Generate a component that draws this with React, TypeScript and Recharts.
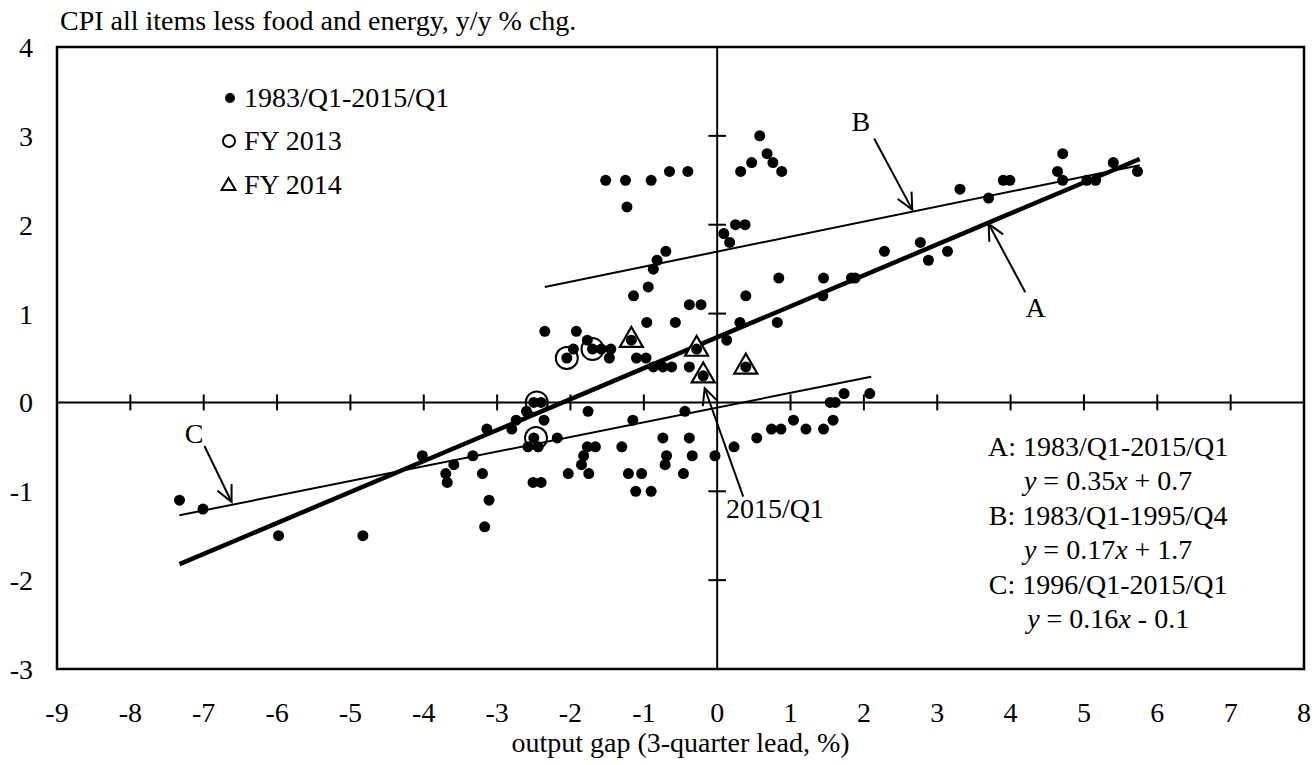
import React from 'react';
import {
  ScatterChart,
  Scatter,
  XAxis,
  YAxis,
  ReferenceLine,
  ReferenceArea,
  ReferenceDot,
  Legend,
} from 'recharts';

const FONT = '"Liberation Serif", "Times New Roman", Times, serif';

// [output gap (3-quarter lead, %), core CPI y/y %], 1983/Q1-2015/Q1
const allQuarters: [number, number][] = [
  [-1.52, 2.5], [-1.25, 2.5], [-0.9, 2.5], [-0.65, 2.6], [-0.4, 2.6], [-1.23, 2.2],
  [0.58, 3.0], [0.32, 2.6], [0.47, 2.7], [0.68, 2.8], [0.76, 2.7], [0.88, 2.6],
  [0.09, 1.9], [0.17, 1.8], [0.25, 2.0], [0.38, 2.0], [-0.7, 1.7], [-0.82, 1.6],
  [-0.87, 1.5], [-0.94, 1.3], [-1.14, 1.2], [-0.38, 1.1], [-0.22, 1.1], [-0.96, 0.9],
  [-0.57, 0.9], [0.84, 1.4], [0.39, 1.2], [0.31, 0.9], [0.82, 0.9], [0.13, 0.7],
  [-2.35, 0.8], [-1.92, 0.8], [-1.77, 0.7], [-1.96, 0.6], [-2.05, 0.5], [-1.7, 0.6],
  [-1.58, 0.6], [-1.45, 0.6], [-1.47, 0.5], [-1.1, 0.5], [-0.97, 0.5], [-0.87, 0.4],
  [-0.74, 0.4], [-0.62, 0.4], [-0.38, 0.4], [-1.17, 0.7], [-0.28, 0.6], [-0.19, 0.3],
  [0.39, 0.4], [-2.5, 0.0], [-2.4, 0.0], [-1.76, -0.1], [-0.44, -0.1], [-2.6, -0.1],
  [-2.74, -0.2], [-2.36, -0.2], [-3.14, -0.3], [-2.8, -0.3], [-2.5, -0.4], [-2.58, -0.5],
  [-2.44, -0.5], [-2.18, -0.4], [-2.51, -0.9], [-2.4, -0.9], [-4.02, -0.6], [-3.7, -0.8],
  [-3.68, -0.9], [-3.59, -0.7], [-3.33, -0.6], [-3.2, -0.8], [-3.11, -1.1], [-3.17, -1.4],
  [-2.03, -0.8], [-1.85, -0.7], [-1.82, -0.6], [-1.77, -0.5], [-1.66, -0.5], [-1.75, -0.8],
  [-1.3, -0.5], [-1.21, -0.8], [-1.03, -0.8], [-1.11, -1.0], [-0.9, -1.0], [-1.15, -0.2],
  [-0.74, -0.4], [-0.69, -0.6], [-0.71, -0.7], [-0.38, -0.4], [-0.34, -0.6], [-0.46, -0.8],
  [-0.03, -0.6], [0.23, -0.5], [0.54, -0.4], [0.74, -0.3], [0.87, -0.3], [1.04, -0.2],
  [1.21, -0.3], [1.45, -0.3], [1.58, -0.2], [1.54, 0.0], [1.61, 0.0], [1.73, 0.1],
  [2.08, 0.1], [1.45, 1.4], [1.44, 1.2], [1.83, 1.4], [1.88, 1.4], [2.28, 1.7],
  [2.77, 1.8], [2.88, 1.6], [3.14, 1.7], [3.31, 2.4], [3.7, 2.3], [3.9, 2.5],
  [3.99, 2.5], [4.64, 2.6], [4.71, 2.8], [4.71, 2.5], [5.04, 2.5], [5.16, 2.5],
  [5.4, 2.7], [5.73, 2.6], [-7.33, -1.1], [-7.01, -1.2], [-5.98, -1.5], [-4.83, -1.5],
];

const fy2013: [number, number][] = [[-2.05, 0.5], [-1.7, 0.6], [-2.46, 0.0], [-2.47, -0.4]];
const fy2014: [number, number][] = [[-1.17, 0.7], [-0.28, 0.6], [0.39, 0.4], [-0.19, 0.3]];

const xTicks = [-9, -8, -7, -6, -5, -4, -3, -2, -1, 0, 1, 2, 3, 4, 5, 6, 7, 8];
const yTicks = [-3, -2, -1, 0, 1, 2, 3, 4];
const xMarks = [-8, -7, -6, -5, -4, -3, -2, -1, 1, 2, 3, 4, 5, 6, 7];
const yMarks = [-2, -1, 1, 2, 3];

// fitted lines, end points as drawn
const fitLines = [
  { name: 'A', from: [-7.33, -1.82], to: [5.76, 2.74], width: 4.5 },
  { name: 'B', from: [-2.35, 1.3], to: [5.76, 2.67], width: 2 },
  { name: 'C', from: [-7.33, -1.27], to: [2.1, 0.29], width: 2 },
];

const fitText = [
  { period: 'A: 1983/Q1-2015/Q1', slope: '0.35', sign: '+', icpt: '0.7' },
  { period: 'B: 1983/Q1-1995/Q4', slope: '0.17', sign: '+', icpt: '1.7' },
  { period: 'C: 1996/Q1-2015/Q1', slope: '0.16', sign: '-', icpt: '0.1' },
];

const arrows = [
  { text: 'A', from: [4.2, 1.24], to: [3.7, 2.01], at: [4.34, 0.96], anchor: 'middle' },
  { text: 'B', from: [2.14, 2.97], to: [2.66, 2.17], at: [1.96, 3.06], anchor: 'middle' },
  { text: 'C', from: [-6.99, -0.49], to: [-6.62, -1.12], at: [-7.13, -0.46], anchor: 'middle' },
  { text: '2015/Q1', from: [0.355, -1.06], to: [-0.17, 0.16], at: [0.12, -1.3], anchor: 'start' },
];

const legendItems = [
  { label: '1983/Q1-2015/Q1', icon: 'dot' },
  { label: 'FY 2013', icon: 'ring' },
  { label: 'FY 2014', icon: 'tri' },
];

const toPts = (arr: [number, number][]) => arr.map(([x, y]) => ({ x, y }));

const triPath = (cx: number, cy: number, s: number) => {
  const h = (s * Math.sqrt(3)) / 2;
  return `M${cx},${cy - (2 * h) / 3} L${cx + s / 2},${cy + h / 3} L${cx - s / 2},${cy + h / 3} Z`;
};

const DotShape = (p: any) => <circle cx={p.cx} cy={p.cy} r={5.5} fill="#000" />;
const RingShape = (p: any) => (
  <circle cx={p.cx} cy={p.cy} r={11} fill="none" stroke="#000" strokeWidth={2} />
);
const TriShape = (p: any) => (
  <path d={triPath(p.cx, p.cy, 23)} fill="#fff" stroke="#000" strokeWidth={2.2} />
);

const Arrow = (p: any) => {
  const { x1, y1, x2, y2 } = p;
  const a = Math.atan2(y1 - y2, x1 - x2);
  const len = 18;
  const sp = 0.45;
  const w1 = `${x2 + len * Math.cos(a + sp)},${y2 + len * Math.sin(a + sp)}`;
  const w2 = `${x2 + len * Math.cos(a - sp)},${y2 + len * Math.sin(a - sp)}`;
  return (
    <g>
      <line x1={x1} y1={y1} x2={x2} y2={y2} stroke="#000" strokeWidth={2} />
      <polyline points={`${w1} ${x2},${y2} ${w2}`} fill="none" stroke="#000" strokeWidth={2} />
    </g>
  );
};

const textAt = (text: string, anchor: string) => (p: any) => (
  <text x={p.cx} y={p.cy} textAnchor={anchor} fontFamily={FONT} fontSize={28} fill="#000">
    {text}
  </text>
);

const LINE = 34.4;
const EquationBlock = (p: any) => (
  <text x={p.cx} y={p.cy} textAnchor="middle" fontFamily={FONT} fontSize={28} fill="#000">
    {fitText.map((f, i) => (
      <React.Fragment key={f.period}>
        <tspan x={p.cx} dy={i === 0 ? 0 : LINE}>{f.period}</tspan>
        <tspan x={p.cx} dy={LINE}>
          <tspan fontStyle="italic">y</tspan>
          {' = ' + f.slope}
          <tspan fontStyle="italic">x</tspan>
          {' ' + f.sign + ' ' + f.icpt}
        </tspan>
      </React.Fragment>
    ))}
  </text>
);

const LegendIcon = ({ kind }: { kind: string }) => (
  <svg width={18} height={18} style={{ display: 'block', marginRight: 6 }}>
    {kind === 'dot' && <circle cx={10} cy={9} r={5} fill="#000" />}
    {kind === 'ring' && <circle cx={9} cy={9} r={6} fill="none" stroke="#000" strokeWidth={2} />}
    {kind === 'tri' && <path d={triPath(8.5, 10, 14)} fill="none" stroke="#000" strokeWidth={2} />}
  </svg>
);

const LegendBox = () => (
  <div style={{ fontFamily: FONT, fontSize: 28, color: '#000' }}>
    {legendItems.map((it) => (
      <div key={it.label} style={{ display: 'flex', alignItems: 'center', height: 43.5 }}>
        <LegendIcon kind={it.icon} />
        <span>{it.label}</span>
      </div>
    ))}
  </div>
);

export default function App() {
  const tickStyle = { fill: '#000', fontSize: 28, fontFamily: FONT };
  return (
    <div style={{ position: 'absolute', left: 0, top: 0, width: 1316, height: 765, background: '#fff' }}>
      <div
        style={{
          position: 'absolute',
          left: 60,
          top: 5,
          fontFamily: FONT,
          fontSize: 28,
          color: '#000',
          whiteSpace: 'nowrap',
          zIndex: 2,
        }}
      >
        CPI all items less food and energy, y/y % chg.
      </div>
      <ScatterChart width={1316} height={765} margin={{ top: 47, right: 12, left: 0, bottom: 0 }}>
        <XAxis
          type="number"
          dataKey="x"
          domain={[-9, 8]}
          ticks={xTicks}
          tickLine={false}
          axisLine={false}
          tickSize={0}
          tickMargin={33}
          height={96}
          tick={tickStyle}
          interval={0}
          label={{
            value: 'output gap (3-quarter lead, %)',
            position: 'insideBottom',
            offset: 13,
            fill: '#000',
            fontSize: 28,
            fontFamily: FONT,
          }}
        />
        <YAxis
          type="number"
          dataKey="y"
          domain={[-3, 4]}
          ticks={yTicks}
          tickLine={false}
          axisLine={false}
          tickSize={0}
          tickMargin={24}
          width={57}
          tick={tickStyle}
          interval={0}
        />
        <ReferenceArea x1={-9} x2={8} y1={-3} y2={4} fill="none" stroke="#000" strokeWidth={2.5} />
        <ReferenceLine y={0} stroke="#000" strokeWidth={2} />
        <ReferenceLine x={0} stroke="#000" strokeWidth={2} />
        {xMarks.map((t) => (
          <ReferenceLine
            key={'xm' + t}
            segment={[{ x: t, y: -0.09 }, { x: t, y: 0.09 }]}
            stroke="#000"
            strokeWidth={2}
          />
        ))}
        {yMarks.map((t) => (
          <ReferenceLine
            key={'ym' + t}
            segment={[{ x: -0.12, y: t }, { x: 0.12, y: t }]}
            stroke="#000"
            strokeWidth={2}
          />
        ))}
        {fitLines.map((l) => (
          <ReferenceLine
            key={'fit' + l.name}
            segment={[{ x: l.from[0], y: l.from[1] }, { x: l.to[0], y: l.to[1] }]}
            stroke="#000"
            strokeWidth={l.width}
          />
        ))}
        {arrows.map((a) => (
          <ReferenceLine
            key={'ar' + a.text}
            segment={[{ x: a.from[0], y: a.from[1] }, { x: a.to[0], y: a.to[1] }]}
            shape={Arrow}
          />
        ))}
        {arrows.map((a) => (
          <ReferenceDot key={'lb' + a.text} x={a.at[0]} y={a.at[1]} r={0} shape={textAt(a.text, a.anchor)} />
        ))}
        <ReferenceDot x={5.33} y={-0.604} r={0} shape={EquationBlock} />
        <Scatter data={toPts(fy2014)} shape={TriShape} isAnimationActive={false} legendType="none" />
        <Scatter data={toPts(fy2013)} shape={RingShape} isAnimationActive={false} legendType="none" />
        <Scatter data={toPts(allQuarters)} shape={DotShape} isAnimationActive={false} legendType="none" />
        <Legend
          layout="vertical"
          align="center"
          verticalAlign="middle"
          content={<LegendBox />}
          wrapperStyle={{ left: 220, top: 76, width: 'auto', height: 'auto' }}
        />
      </ScatterChart>
    </div>
  );
}
